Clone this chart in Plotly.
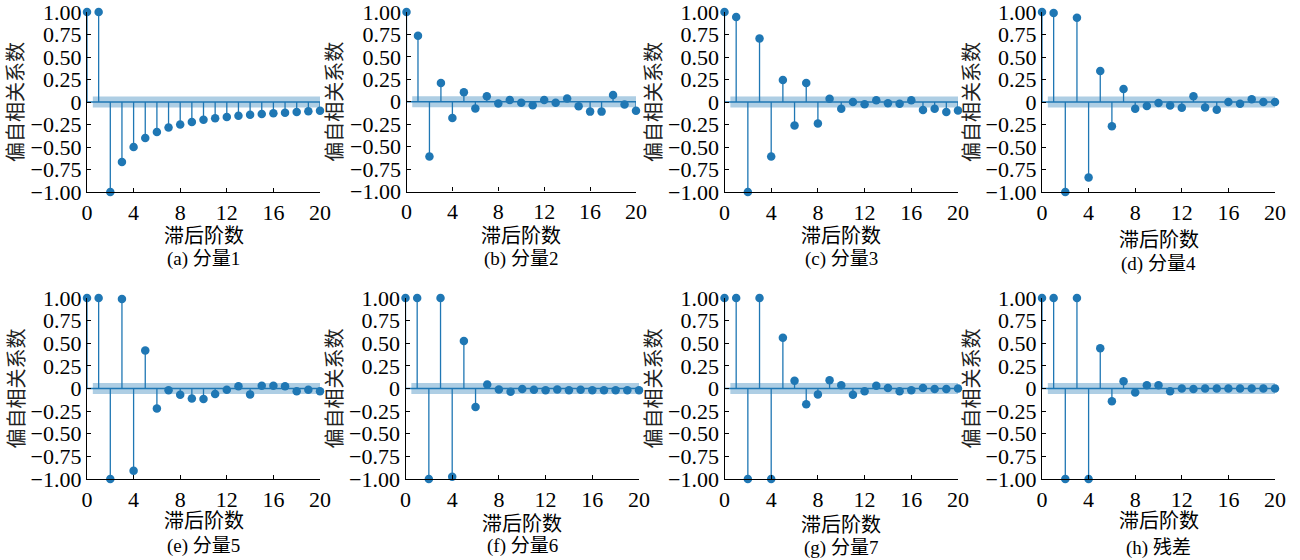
import plotly.graph_objects as go

lags = list(range(21))
pacf_1 = [1.0, 1.0, -1.0, -0.667, -0.5, -0.4, -0.333, -0.283, -0.25, -0.222, -0.198,
          -0.18, -0.167, -0.152, -0.141, -0.133, -0.126, -0.119, -0.111, -0.104, -0.097]
pacf_2 = [1.0, 0.735, -0.61, 0.21, -0.18, 0.105, -0.075, 0.06, -0.02, 0.02, -0.01,
          -0.04, 0.02, -0.01, 0.035, -0.05, -0.11, -0.11, 0.075, -0.03, -0.10]
pacf_3 = [1.0, 0.945, -1.0, 0.705, -0.605, 0.245, -0.26, 0.21, -0.24, 0.035, -0.075,
          0.0, -0.025, 0.02, -0.015, -0.02, 0.02, -0.09, -0.075, -0.11, -0.095]
pacf_4 = [1.0, 0.99, -1.0, 0.935, -0.84, 0.345, -0.27, 0.145, -0.075, -0.045, -0.01,
          -0.04, -0.065, 0.065, -0.06, -0.085, 0.0, -0.02, 0.03, 0.0, 0.0]
pacf_5 = [1.0, 1.0, -1.0, 0.99, -0.91, 0.42, -0.22, -0.02, -0.07, -0.11, -0.115,
          -0.06, -0.015, 0.025, -0.065, 0.03, 0.03, 0.025, -0.03, -0.015, -0.03]
pacf_6 = [1.0, 1.0, -1.0, 1.0, -0.975, 0.525, -0.205, 0.045, -0.01, -0.035, -0.005,
          -0.015, -0.02, -0.01, -0.02, -0.015, -0.02, -0.02, -0.02, -0.02, -0.02]
pacf_7 = [1.0, 1.0, -1.0, 1.0, -1.0, 0.56, 0.085, -0.175, -0.065, 0.09, 0.035,
          -0.07, -0.03, 0.03, 0.005, -0.03, -0.02, 0.005, -0.005, -0.005, 0.0]
pacf_8 = [1.0, 1.0, -1.0, 1.0, -1.0, 0.445, -0.14, 0.08, -0.045, 0.035, 0.035,
          -0.03, 0.0, -0.005, 0.0, 0.0, 0.0, 0.0, 0.0, 0.0, 0.0]
conf_band = 0.062

series = [pacf_1, pacf_2, pacf_3, pacf_4, pacf_5, pacf_6, pacf_7, pacf_8]
captions = ["(a) 分量1", "(b) 分量2", "(c) 分量3", "(d) 分量4",
            "(e) 分量5", "(f) 分量6", "(g) 分量7", "(h) 残差"]
x_tickvals = [0, 4, 8, 12, 16, 20]
y_tickvals = [1.0, 0.75, 0.5, 0.25, 0.0, -0.25, -0.5, -0.75, -1.0]
y_ticktext = ["1.00", "0.75", "0.50", "0.25", "0", "\u22120.25", "\u22120.50", "\u22120.75", "\u22121.00"]
x_title = "滞后阶数"
y_title = "偏自相关系数"

W, H = 1300, 560
# pixel layout: (left, right, top, bottom)
boxes = [
    (87, 320, 12, 192), (406.5, 636, 12, 191.5), (724.5, 958, 12, 192), (1042, 1275, 12, 192),
    (87, 320, 298, 479), (405.5, 639, 298, 479), (724.5, 958, 298, 479), (1042, 1275, 298, 479),
]
xtitle_y = [236, 236, 236, 240, 521, 524, 525, 521]
cap_y = [259, 259, 259, 264, 546, 546, 548, 548]
ytitle_x = [16, 335, 654, 972, 16, 334, 653, 971]

BLUE = "#1f77b4"
FONT = "Liberation Serif, Times New Roman, Noto Sans CJK SC, serif"
CJK = "Liberation Serif, Noto Sans CJK SC, serif"

fig = go.Figure()
annotations = []
for i, (vals, (l, r, t, b)) in enumerate(zip(series, boxes)):
    n = "" if i == 0 else str(i + 1)
    xa, ya = "x" + n, "y" + n
    # confidence band
    bx0, bx1 = lags[1] - 0.5, lags[-1] + 0.5
    fig.add_trace(go.Scatter(x=[bx0, bx1, bx1, bx0, bx0],
                             y=[-conf_band, -conf_band, conf_band, conf_band, -conf_band],
                             fill="toself", fillcolor="rgba(31,119,180,0.36)",
                             line=dict(width=0), mode="lines", hoverinfo="skip",
                             showlegend=False, xaxis=xa, yaxis=ya))
    # zero line
    fig.add_trace(go.Scatter(x=[lags[0], lags[-1]], y=[0, 0], mode="lines",
                             line=dict(color=BLUE, width=1.4), showlegend=False,
                             xaxis=xa, yaxis=ya))
    # stems
    sx, sy = [], []
    for k, v in zip(lags, vals):
        sx += [k, k, None]
        sy += [0, v, None]
    fig.add_trace(go.Scatter(x=sx, y=sy, mode="lines", line=dict(color=BLUE, width=1.3),
                             showlegend=False, xaxis=xa, yaxis=ya))
    # markers
    fig.add_trace(go.Scatter(x=lags, y=vals, mode="markers",
                             marker=dict(color=BLUE, size=8.5), cliponaxis=False,
                             showlegend=False, xaxis=xa, yaxis=ya))
    axis_common = dict(showline=True, linecolor="black", linewidth=1.3, ticks="inside",
                       ticklen=4, tickwidth=1.2, tickcolor="black", showgrid=False,
                       zeroline=False, automargin=False, ticklabeloverflow="allow",
                       tickfont=dict(family=FONT, size=22, color="black"))
    fig.layout["xaxis" + n] = dict(domain=[l / W, r / W], anchor=ya, range=[0, 20],
                                   tickmode="array", tickvals=x_tickvals, **axis_common)
    fig.layout["yaxis" + n] = dict(domain=[1 - b / H, 1 - t / H], anchor=xa, range=[-1, 1],
                                   tickmode="array", tickvals=y_tickvals, ticktext=y_ticktext,
                                   **axis_common)
    cx = (l + r) / 2
    annotations.append(dict(text=x_title, x=cx / W, y=1 - xtitle_y[i] / H, xref="paper", yref="paper",
                            showarrow=False, xanchor="center", yanchor="middle",
                            font=dict(family=CJK, size=20, color="black")))
    annotations.append(dict(text=captions[i], x=cx / W, y=1 - cap_y[i] / H, xref="paper", yref="paper",
                            showarrow=False, xanchor="center", yanchor="middle",
                            font=dict(family=CJK, size=19, color="black")))
    annotations.append(dict(text=y_title, x=ytitle_x[i] / W, y=1 - ((t + b) / 2) / H,
                            xref="paper", yref="paper", showarrow=False, textangle=-90,
                            xanchor="center", yanchor="middle",
                            font=dict(family=CJK, size=20, color="#222")))

fig.update_layout(width=W, height=H, margin=dict(l=0, r=0, t=0, b=0, autoexpand=False),
                  paper_bgcolor="white", plot_bgcolor="white", annotations=annotations,
                  showlegend=False, font=dict(family=FONT, color="black"))
fig.write_html("out.html", config={"displayModeBar": False},
               post_script="document.body.style.margin='0';")
